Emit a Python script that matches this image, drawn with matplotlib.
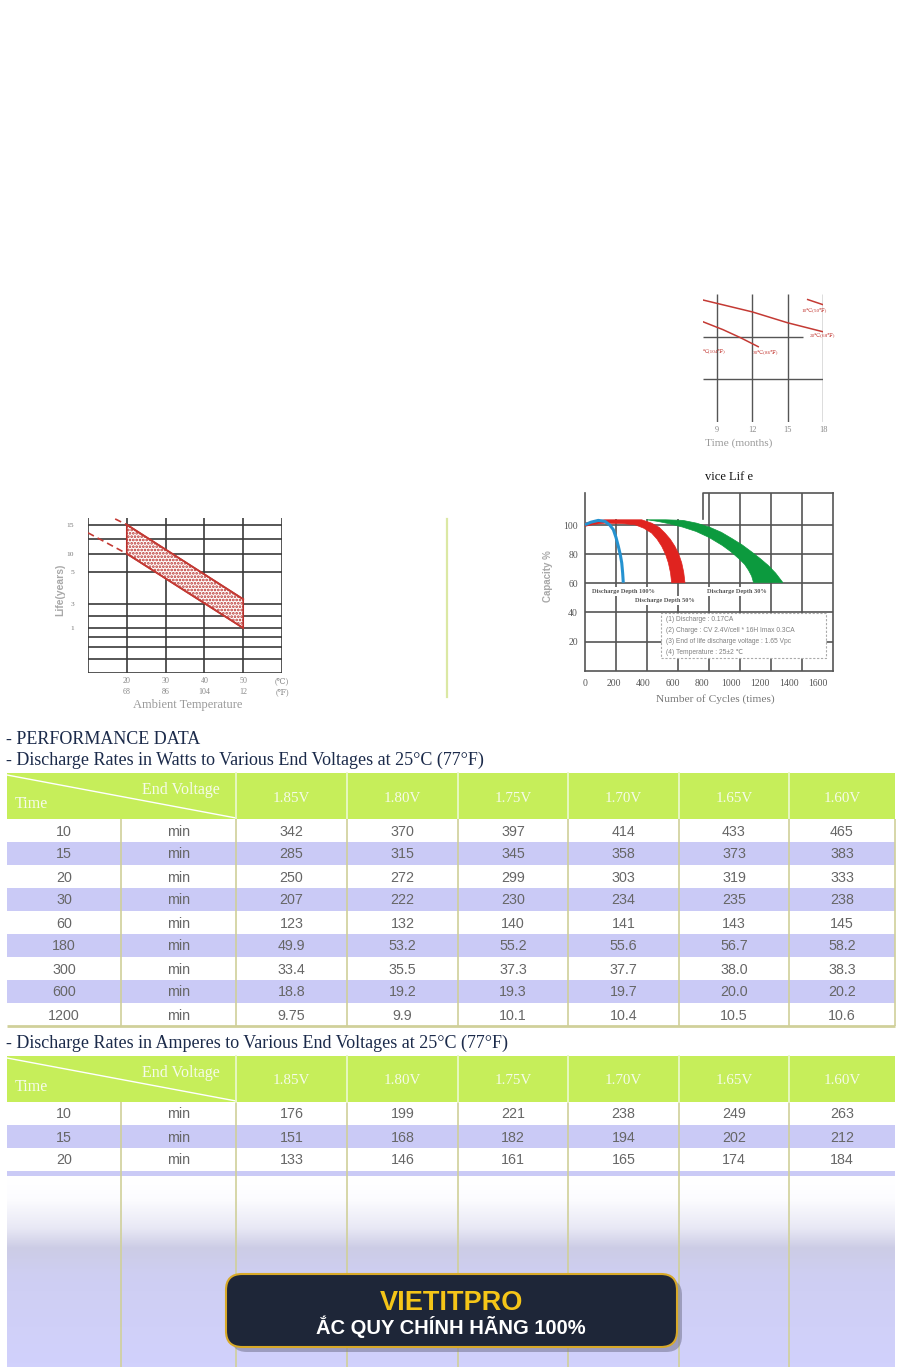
import numpy as np
import matplotlib
matplotlib.use("Agg")
import matplotlib.pyplot as plt
from matplotlib.patches import Rectangle, FancyBboxPatch

SERIF = ["Liberation Serif", "DejaVu Serif", "DejaVu Sans"]
SANS = ["Liberation Sans", "DejaVu Sans"]
plt.rcParams["font.family"] = SERIF
plt.rcParams["hatch.linewidth"] = 1.3

W, H = 902, 1367

# ---- storage chart (only the right part is visible) ----
storage_grid_months = [9, 12, 15, 18]
months_20c = [7.8, 12.0, 15.0, 18.0]
cap_20c = [97.2, 91.6, 86.5, 82.3]
months_10c = [16.7, 18.0]
cap_10c = [97.4, 95.0]
months_30c = [7.8, 9.5, 11.0, 12.5]
cap_30c = [87.0, 83.3, 79.5, 75.3]

# ---- life vs temperature ----
temp_ticks = [20, 30, 40, 50, 60]
temp_labels = ["20\n68", "30\n86", "40\n104", "50\n12", "(\u2103)\n(\u2109)"]
life_ticks = [1, 3, 5, 10, 15]
life_extra_lines = [0.3, 0.57, 0.81, 1.97, 12.5]
life_scale_life = [0, 1, 3, 5, 10, 15, 20]
life_scale_pos = [0, 45, 69, 101, 119.3, 148.3, 155]
band_temp = [20, 50]
band_upper = [15, 3.3]
band_lower = [10, 1]
dash_upper_temp = [17, 20]
dash_upper_life = [19.3, 15]
dash_lower_temp = [10, 20]
dash_lower_life = [13.6, 10]

# ---- cycle life ----
cycle_ticks = [0, 200, 400, 600, 800, 1000, 1200, 1400, 1600]
capacity_ticks = [20, 40, 60, 80, 100]
blue_cycles = [0, 40, 86, 129, 160, 183, 200, 215, 228, 237, 243, 247]
blue_cap = [100.2, 102.0, 103.2, 102.5, 100.0, 96.8, 91.5, 85.4, 79.5, 74.0, 67.0, 60.4]
red_outer_cycles = [0, 60, 129, 250, 366, 430, 480, 516, 550, 580, 605, 624, 637, 645]
red_outer_cap = [101.3, 102.8, 103.6, 103.6, 103.6, 101.3, 98.3, 94.5, 90.3, 85.4, 80.0, 74.0, 67.5, 60.4]
red_inner_cycles = [0, 60, 129, 240, 323, 380, 430, 465, 495, 520, 538, 552, 559]
red_inner_cap = [99.1, 100.5, 101.3, 101.0, 100.2, 97.8, 94.5, 90.3, 85.4, 79.8, 74.0, 67.0, 60.4]
green_upper_cycles = [400, 520, 632, 720, 802, 880, 950, 1015, 1076, 1130, 1181, 1230, 1276]
green_upper_cap = [103.6, 103.6, 103.2, 101.3, 98.6, 95.0, 90.6, 86.3, 81.5, 77.0, 72.4, 67.0, 60.6]
green_lower_cycles = [400, 470, 548, 630, 717, 800, 886, 940, 992, 1030, 1055, 1075, 1087]
green_lower_cap = [103.6, 102.5, 100.8, 98.6, 95.6, 91.5, 86.0, 81.8, 77.0, 73.0, 69.0, 65.0, 60.6]
test_notes = [
    "(1) Discharge : 0.17CA",
    "(2) Charge : CV 2.4V/cell * 16H Imax 0.3CA",
    "(3) End of life discharge voltage : 1.65 Vpc",
    "(4) Temperature : 25\u00b12 \u2103",
]

# ---- tables ----
voltages = ["1.85V", "1.80V", "1.75V", "1.70V", "1.65V", "1.60V"]
watt_times = ["10", "15", "20", "30", "60", "180", "300", "600", "1200"]
watt_values = [
    ["342", "370", "397", "414", "433", "465"],
    ["285", "315", "345", "358", "373", "383"],
    ["250", "272", "299", "303", "319", "333"],
    ["207", "222", "230", "234", "235", "238"],
    ["123", "132", "140", "141", "143", "145"],
    ["49.9", "53.2", "55.2", "55.6", "56.7", "58.2"],
    ["33.4", "35.5", "37.3", "37.7", "38.0", "38.3"],
    ["18.8", "19.2", "19.3", "19.7", "20.0", "20.2"],
    ["9.75", "9.9", "10.1", "10.4", "10.5", "10.6"],
]
amp_times = ["10", "15", "20"]
amp_values = [
    ["176", "199", "221", "238", "249", "263"],
    ["151", "168", "182", "194", "202", "212"],
    ["133", "146", "161", "165", "174", "184"],
]

HEAD_GREEN = "#c6ee5a"
LAVENDER = "#cacaf6"
KHAKI = "#d0d09a"
RED = "#c43a34"
col_x = [7, 121, 236, 347, 458, 568, 679, 789, 895]
HEAD_H = 46
ROW_H = 23

fig = plt.figure(figsize=(W / 100, H / 100), dpi=100)
page = fig.add_axes([0, 0, 1, 1])
page.set_xlim(0, W)
page.set_ylim(H, 0)
page.axis("off")


def px_axes(x0, y0, x1, y1):
    ax = fig.add_axes([x0 / W, 1 - y1 / H, (x1 - x0) / W, (y1 - y0) / H])
    ax.patch.set_alpha(0)
    return ax


# storage chart
st = px_axes(703, 294, 823, 422)
st.set_xlim(7.81, 18)
st.set_ylim(40, 100)
for s in st.spines.values():
    s.set_visible(False)
st.vlines(storage_grid_months, 40, 100, colors="#555555", lw=1)
st.hlines(60, 7.81, 18, colors="#555555", lw=1)
st.hlines(80, 7.81, 16.3, colors="#555555", lw=1)
st.plot(months_20c, cap_20c, color=RED, lw=1.1)
st.plot(months_10c, cap_10c, color=RED, lw=1.1)
st.plot(months_30c, cap_30c, color=RED, lw=1.1)
lab = dict(color=RED, fontsize=3.8, ha="center", va="center", clip_on=False)
st.text(17.3, 92.0, "10\u2103(50\u2109)", **lab)
st.text(18.0, 80.3, "20\u2103(68\u2109)", **lab)
st.text(13.1, 72.3, "30\u2103(86\u2109)", **lab)
st.text(7.81, 72.8, "\u2103(104\u2109)", **{**lab, "ha": "left"})
st.set_xticks(storage_grid_months)
st.set_yticks([])
st.tick_params(axis="x", length=0, pad=3, labelsize=6, labelcolor="#888888")
page.text(739, 443, "Time (months)", fontsize=8.2, color="#999999", ha="center", va="center")

# life vs temperature chart
lf = px_axes(88, 518, 282, 673)
lf.set_yscale("function", functions=(lambda v: np.interp(v, life_scale_life, life_scale_pos),
                                     lambda p: np.interp(p, life_scale_pos, life_scale_life)))
lf.set_xlim(10, 60)
lf.set_ylim(0, 20)
for s in lf.spines.values():
    s.set_visible(False)
grid_c = "#3a3a3a"
for v in life_ticks + life_extra_lines + [0]:
    lf.axhline(v, color=grid_c, lw=1.2, zorder=1)
lf.vlines([10] + temp_ticks, 0, 20, colors=grid_c, lw=1.2, zorder=1)
lf.fill_between(band_temp, band_lower, band_upper, facecolor="white", edgecolor="#b8302c",
                hatch=".....", lw=1.2, zorder=2)
lf.plot(band_temp, band_upper, color=RED, lw=1.3, zorder=3)
lf.plot(band_temp, band_lower, color=RED, lw=1.3, zorder=3)
lf.plot(dash_upper_temp, dash_upper_life, color=RED, lw=1.2, ls=(0, (4, 2.5)), zorder=3, clip_on=False)
lf.plot(dash_lower_temp, dash_lower_life, color=RED, lw=1.2, ls=(0, (4, 2.5)), zorder=3)
lf.set_xticks(temp_ticks)
lf.set_xticklabels(temp_labels)
for t in lf.get_xticklabels():
    t.set_linespacing(1.45)
lf.set_yticks(life_ticks)
lf.set_yticklabels([str(v) for v in life_ticks])
lf.yaxis.set_minor_locator(plt.NullLocator())
lf.tick_params(axis="x", length=0, pad=3, labelsize=5.8, labelcolor="#888888")
lf.tick_params(axis="y", length=0, pad=10, labelsize=5.4, labelcolor="#777777")
page.text(188, 705, "Ambient Temperature", fontsize=9, color="#9a9a9a", ha="center", va="center")
page.text(60, 590, "Life(years)", fontsize=7.5, color="#a8a8a8", ha="center", va="center",
          rotation=90, family=SANS, weight="bold")

# separator line between the two charts
page.plot([447, 447], [519, 697], color="#dbe8a4", lw=1.6)

# cycle life chart
cy = px_axes(585, 493, 833, 670.7)
cy.set_xlim(0, 1600)
cy.set_ylim(0, 122)
grid_c2 = "#555555"
cy.spines["top"].set_visible(False)
for name in ["left", "bottom", "right"]:
    cy.spines[name].set_color(grid_c2)
    cy.spines[name].set_linewidth(1.2)
cy.vlines(cycle_ticks[1:-1], 0, 122, colors=grid_c2, lw=1.2, zorder=1)
cy.hlines(capacity_ticks, 0, 1600, colors=grid_c2, lw=1.2, zorder=1)
cy.add_patch(Rectangle((0, 104.2), 760, 19, fc="white", ec="none", zorder=2))
cy.plot([760, 760, 1600], [104.2, 122, 122], color=grid_c2, lw=1.2, zorder=2.1, clip_on=False)
cy.fill(green_upper_cycles + green_lower_cycles[::-1], green_upper_cap + green_lower_cap[::-1],
        color="#0c9a3e", lw=0.5, ec="#0c9a3e", zorder=3)
cy.fill(red_outer_cycles + red_inner_cycles[::-1], red_outer_cap + red_inner_cap[::-1],
        color="#e0231f", lw=0.5, ec="#e0231f", zorder=3)
cy.plot(blue_cycles, blue_cap, color="#2592d0", lw=2.2, zorder=3.5, solid_capstyle="butt")
dd = dict(fontsize=4.6, weight="bold", color="#555555", ha="center", va="center", zorder=4,
          bbox=dict(fc="white", ec="none", pad=1.5))
cy.text(251, 54.3, "Discharge Depth 100%", **dd)
cy.text(515, 48.2, "Discharge Depth 50%", **dd)
cy.text(979, 54.3, "Discharge Depth 30%", **dd)
cy.add_patch(Rectangle((0.305, 0.072), 0.665, 0.25, transform=cy.transAxes, fc="white",
                       ec="#aaaaaa", ls=(0, (2, 1.5)), lw=0.8, zorder=4))
for k, note in enumerate(test_notes):
    cy.text(0.325, 0.29 - k * 0.062, note, transform=cy.transAxes, fontsize=4.8,
            color="#808080", family=SANS, va="center", zorder=5)
cy.set_yticks(capacity_ticks)
cy.set_xticks(cycle_ticks)
cy.tick_params(axis="x", length=0, labelbottom=False)
cy.tick_params(axis="y", length=0, pad=5, labelsize=7, labelcolor="#555555")
sec = cy.secondary_xaxis("bottom", functions=(lambda p: p / 0.94, lambda s: s * 0.94))
sec.set_xticks(cycle_ticks)
sec.spines["bottom"].set_visible(False)
sec.tick_params(length=0, pad=6, labelsize=7, labelcolor="#555555")
page.text(705, 477, "vice Lif e", fontsize=9, color="#111111", ha="left", va="center")
page.text(715, 699, "Number of Cycles (times)", fontsize=8.2, color="#777777", ha="center", va="center")
page.text(548, 576, "Capacity %", fontsize=7, color="#a8a8a8", ha="center", va="center",
          rotation=90, family=SANS, weight="bold")


# tables
def draw_header(top):
    page.add_patch(Rectangle((col_x[0], top), col_x[-1] - col_x[0], HEAD_H, fc=HEAD_GREEN, ec="none"))
    page.plot([col_x[0], col_x[2]], [top + 2, top + HEAD_H - 1], color="white", lw=1)
    for x in col_x[2:-1]:
        page.plot([x, x], [top, top + HEAD_H], color="#e9f8c8", lw=1.3)
    hd = dict(color="#f6fbea", va="center")
    page.text(15, top + 31, "Time", ha="left", fontsize=11.5, **hd)
    page.text(181, top + 17, "End Voltage", ha="center", fontsize=11.5, **hd)
    for j, v in enumerate(voltages):
        page.text((col_x[j + 2] + col_x[j + 3]) / 2, top + 25, v, ha="center", fontsize=10.8, **hd)


def draw_rows(top, times, values):
    cell = dict(color="#666666", fontsize=10.3, family=SANS, ha="center", va="center")
    for i, (t, row) in enumerate(zip(times, values)):
        y0 = top + i * ROW_H
        if i % 2:
            page.add_patch(Rectangle((col_x[0], y0), col_x[-1] - col_x[0], ROW_H, fc=LAVENDER, ec="none"))
        page.text((col_x[0] + col_x[1]) / 2, y0 + ROW_H / 2 + 1, t, **cell)
        page.text((col_x[1] + col_x[2]) / 2, y0 + ROW_H / 2 + 1, "min", **cell)
        for j, v in enumerate(row):
            page.text((col_x[j + 2] + col_x[j + 3]) / 2, y0 + ROW_H / 2 + 1, v, **cell)
    return top + len(times) * ROW_H


title = dict(color="#1b2a4a", fontsize=13, ha="left", va="center")
page.text(6, 740, "- PERFORMANCE DATA", **title)
page.text(6, 760, "- Discharge Rates in Watts to Various End Voltages at 25\u00b0C (77\u00b0F)", **title)
draw_header(773)
bottom1 = draw_rows(773 + HEAD_H, watt_times, watt_values)
page.vlines(col_x[1:], 773 + HEAD_H, bottom1, colors=KHAKI, lw=1.2)
page.hlines(bottom1, col_x[0], col_x[-1], colors=KHAKI, lw=2)

page.text(6, 1043, "- Discharge Rates in Amperes to Various End Voltages at 25\u00b0C (77\u00b0F)", **title)
draw_header(1056)
bottom2 = draw_rows(1056 + HEAD_H, amp_times, amp_values)
page.add_patch(Rectangle((col_x[0], bottom2), col_x[-1] - col_x[0], 5, fc=LAVENDER, ec="none"))

# faded area below the cut-off table
ys = np.arange(bottom2 + 5, H + 1)
stops_y = [bottom2 + 5, 1198, 1228, 1248, 1275, H]
stops_c = np.array([[1, 1, 1], [0.99, 0.99, 1.0], [0.91, 0.91, 0.96], [0.80, 0.80, 0.90],
                    [0.81, 0.81, 0.95], [0.82, 0.82, 0.99]])
grad = np.stack([np.interp(ys, stops_y, stops_c[:, c]) for c in range(3)], axis=-1)[:, None, :]
page.imshow(grad, extent=[col_x[0], col_x[-1], H, bottom2 + 5], aspect="auto", zorder=0.5)
page.vlines(col_x[1:-1], 1056 + HEAD_H, H, colors=KHAKI, lw=1.2, zorder=1)

# banner
page.add_patch(FancyBboxPatch((231, 1279), 451, 73, boxstyle="round,pad=0,rounding_size=16",
                              fc="#7c7c98", ec="none", alpha=0.6, zorder=5))
page.add_patch(FancyBboxPatch((226, 1274), 451, 73, boxstyle="round,pad=0,rounding_size=16",
                              fc="#1e2638", ec="#d8a928", lw=1.5, zorder=6))
page.text(451, 1303, "VIETITPRO", color="#f5c518", fontsize=19.5, weight="bold", family=SANS,
          ha="center", va="center", zorder=7)
page.text(451, 1326.5, "\u1eaeC QUY CH\u00cdNH H\u00c3NG 100%", color="white", fontsize=14.5, weight="bold",
          family=SANS, ha="center", va="center", zorder=7)

fig.savefig("out.png", dpi=100)
